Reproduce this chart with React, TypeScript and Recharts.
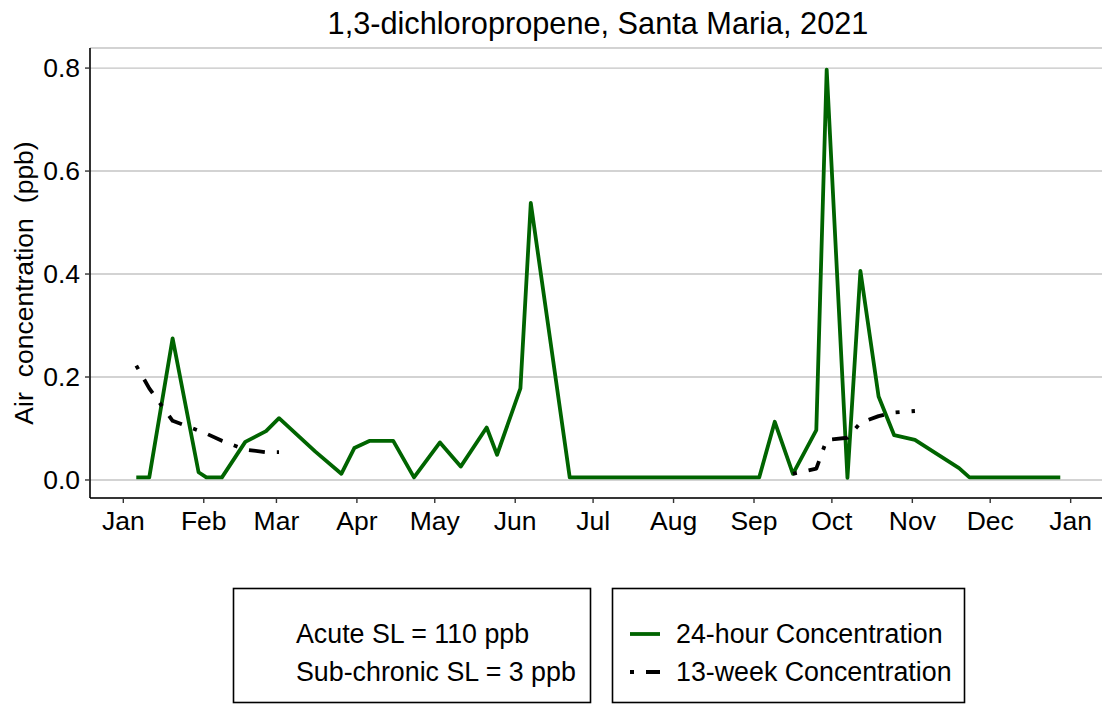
import React from 'react';
import { LineChart, Line, XAxis, YAxis, CartesianGrid } from 'recharts';

// Day-of-year (0 = Jan 1, 2021) of each 24-hour sample and its value (ppb)
const dailyDays = [5, 10, 19, 29, 32, 38, 47, 55, 60, 74, 84, 89, 95, 104, 112, 122, 130, 140, 144, 153, 157, 172, 186, 200, 214, 228, 245, 251, 258, 267, 271, 279, 284, 291, 297, 305, 322, 326, 340, 354, 361];
const dailyPpb = [0.005, 0.005, 0.275, 0.015, 0.005, 0.005, 0.074, 0.095, 0.12, 0.055, 0.012, 0.062, 0.076, 0.076, 0.005, 0.073, 0.026, 0.102, 0.049, 0.178, 0.538, 0.005, 0.005, 0.005, 0.005, 0.005, 0.005, 0.113, 0.012, 0.097, 0.797, 0.004, 0.406, 0.162, 0.087, 0.078, 0.023, 0.005, 0.005, 0.005, 0.005];

// 13-week rolling concentration, two separate runs
const week13EarlyDays = [5, 10, 19, 29, 32, 38, 47, 55, 60];
const week13EarlyPpb = [0.222, 0.178, 0.115, 0.096, 0.09, 0.076, 0.059, 0.054, 0.054];
const week13LateDays = [258, 267, 271, 279, 284, 291, 297, 305];
const week13LatePpb = [0.012, 0.022, 0.078, 0.082, 0.111, 0.124, 0.131, 0.134];

const monthTicks = [0, 31, 59, 90, 120, 151, 181, 212, 243, 273, 304, 334, 365];
const monthLabels = ['Jan', 'Feb', 'Mar', 'Apr', 'May', 'Jun', 'Jul', 'Aug', 'Sep', 'Oct', 'Nov', 'Dec', 'Jan'];
const yTicks = [0, 0.2, 0.4, 0.6, 0.8];

const title = '1,3-dichloropropene, Santa Maria, 2021';
const yLabelWords = ['Air', 'concentration', '(ppb)'];
const slLines = ['Acute SL = 110 ppb', 'Sub-chronic SL = 3 ppb'];
const seriesNames = ['24-hour Concentration', '13-week Concentration'];

const toRows = (days: number[], vals: number[]) => days.map((d, i) => ({ day: d, ppb: vals[i] }));
const dailyData = toRows(dailyDays, dailyPpb);
const earlyData = toRows(week13EarlyDays, week13EarlyPpb);
const lateData = toRows(week13LateDays, week13LatePpb);

const FONT = '"Liberation Sans", Arial, Helvetica, sans-serif';
const GREEN = '#006400';
const LW = 3.8;
const DASH = '4 12 16 12';
const TICK_FS = 26.5;
const LEG_FS = 26.8;

export default function App() {
  return (
    <div style={{ position: 'absolute', left: 0, top: 0, width: 1102, height: 704, overflow: 'hidden', background: '#fff', fontFamily: FONT }}>
      <LineChart width={1107} height={704} margin={{ top: 48, right: 0, bottom: 166, left: 0 }}>
        <CartesianGrid vertical={false} stroke="#c4c4c4" strokeWidth={1.4} />
        <XAxis
          type="number"
          dataKey="day"
          domain={[-12.83, 379]}
          allowDataOverflow
          ticks={monthTicks}
          tickFormatter={(v: number) => monthLabels[monthTicks.indexOf(v)] ?? ''}
          height={40}
          axisLine={{ stroke: '#000', strokeWidth: 1.6 }}
          tickLine={{ stroke: '#333', strokeWidth: 1.4 }}
          tickSize={5}
          tickMargin={8}
          tick={{ fill: '#000', fontSize: TICK_FS, fontFamily: FONT }}
          interval={0}
        />
        <YAxis
          type="number"
          domain={[-0.035, 0.839]}
          allowDataOverflow
          ticks={yTicks}
          tickFormatter={(v: number) => v.toFixed(1)}
          width={90}
          axisLine={{ stroke: '#000', strokeWidth: 1.6 }}
          tickLine={{ stroke: '#333', strokeWidth: 1.4 }}
          tickSize={5}
          tickMargin={5}
          tick={{ fill: '#000', fontSize: TICK_FS, fontFamily: FONT }}
          interval={0}
        />
        <Line data={dailyData} dataKey="ppb" type="linear" stroke={GREEN} strokeWidth={LW} strokeLinejoin="round" dot={false} activeDot={false} isAnimationActive={false} name={seriesNames[0]} />
        <Line data={earlyData} dataKey="ppb" type="linear" stroke="#000" strokeWidth={LW} strokeDasharray={DASH} strokeLinejoin="round" dot={false} activeDot={false} isAnimationActive={false} name={seriesNames[1]} />
        <Line data={lateData} dataKey="ppb" type="linear" stroke="#000" strokeWidth={LW} strokeDasharray={DASH} strokeLinejoin="round" dot={false} activeDot={false} isAnimationActive={false} name={seriesNames[1]} />
      </LineChart>
      <svg width={1102} height={704} style={{ position: 'absolute', left: 0, top: 0, pointerEvents: 'none' }}>
        <text x={598} y={34} textAnchor="middle" fontSize={30.7} fontFamily={FONT} fill="#000">{title}</text>
        <text transform="translate(33,283) rotate(-90)" textAnchor="middle" fontSize={TICK_FS} fontFamily={FONT} fill="#000">
          <tspan>{yLabelWords[0]}</tspan>
          <tspan dx={15}>{yLabelWords[1]}</tspan>
          <tspan dx={15}>{yLabelWords[2]}</tspan>
        </text>
        <rect x={233.5} y={588.5} width={357} height={114} fill="none" stroke="#000" strokeWidth={1.6} />
        <text x={296} y={643} fontSize={LEG_FS} fontFamily={FONT} fill="#000">{slLines[0]}</text>
        <text x={296} y={681} fontSize={LEG_FS} fontFamily={FONT} fill="#000">{slLines[1]}</text>
        <rect x={612.5} y={588.5} width={352} height={114} fill="none" stroke="#000" strokeWidth={1.6} />
        <line x1={630} y1={634} x2={660} y2={634} stroke={GREEN} strokeWidth={LW} />
        <text x={676} y={643} fontSize={LEG_FS} fontFamily={FONT} fill="#000">{seriesNames[0]}</text>
        <line x1={630} y1={672} x2={660} y2={672} stroke="#000" strokeWidth={LW} strokeDasharray={DASH} />
        <text x={676} y={681} fontSize={LEG_FS} fontFamily={FONT} fill="#000">{seriesNames[1]}</text>
      </svg>
    </div>
  );
}
